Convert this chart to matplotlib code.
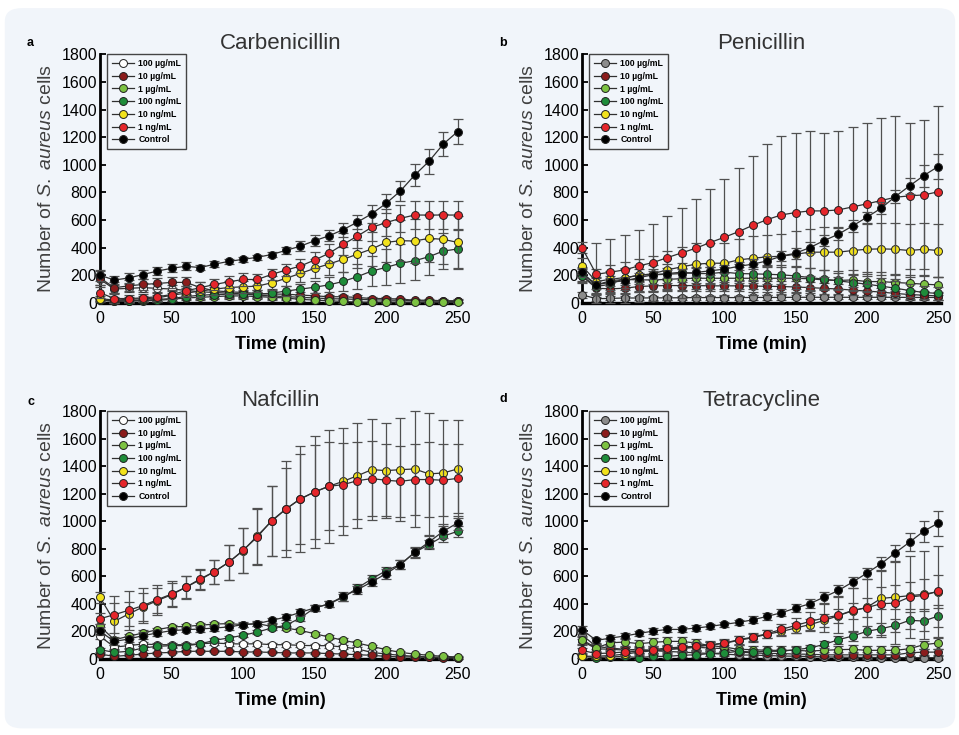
import matplotlib
matplotlib.use("Agg")
import matplotlib.pyplot as plt
import numpy as np
from matplotlib.patches import FancyBboxPatch

plt.rcParams["font.family"] = ["Liberation Sans", "DejaVu Sans"]
plt.rcParams["mathtext.fontset"] = "custom"
plt.rcParams["mathtext.rm"] = "Liberation Sans"
plt.rcParams["mathtext.it"] = "Liberation Sans:italic"

TIME = [0, 10, 20, 30, 40, 50, 60, 70, 80, 90, 100, 110, 120, 130, 140, 150,
        160, 170, 180, 190, 200, 210, 220, 230, 240, 250]
LABELS = ["100 \u00b5g/mL", "10 \u00b5g/mL", "1 \u00b5g/mL", "100 ng/mL",
          "10 ng/mL", "1 ng/mL", "Control"]

# ---- a: Carbenicillin
CARB_100UG = [170, 100, 105, 110, 105, 100, 90, 80, 75, 70, 65, 55, 50, 45, 40, 35, 30, 28, 25, 22, 20, 18, 15, 12, 12, 10]
CARB_10UG = [181, 109, 123, 133, 140, 148, 148, 111, 87, 80, 75, 68, 63, 63, 56, 51, 44, 44, 39, 31, 31, 27, 19, 19, 15, 15]
CARB_1UG = [20, 10, 12, 15, 18, 25, 35, 40, 45, 50, 50, 45, 40, 35, 25, 20, 15, 10, 5, 5, 5, 5, 4, 4, 3, 3]
CARB_100NG = [19, 15, 15, 19, 24, 31, 45, 55, 60, 62, 65, 62, 70, 85, 99, 113, 130, 155, 190, 230, 257, 286, 305, 334, 375, 390]
CARB_10NG = [30, 20, 25, 30, 35, 55, 70, 85, 99, 111, 116, 121, 145, 177, 213, 249, 281, 315, 353, 390, 438, 450, 448, 467, 460, 438]
CARB_1NG = [73, 31, 31, 36, 44, 60, 87, 109, 133, 152, 169, 169, 206, 237, 266, 310, 358, 423, 484, 547, 581, 612, 636, 636, 636, 636]
CARB_CTRL = [200, 165, 180, 205, 230, 250, 265, 255, 280, 300, 315, 330, 350, 380, 410, 450, 485, 530, 585, 645, 720, 810, 925, 1025, 1150, 1240]

CARB_100UG_ERR = [40, 30, 30, 30, 30, 30, 30, 25, 25, 25, 20, 20, 20, 15, 15, 15, 10, 10, 10, 10, 10, 10, 8, 8, 8, 8]
CARB_10UG_ERR = [50, 40, 40, 40, 40, 40, 40, 40, 30, 30, 30, 25, 25, 20, 20, 20, 15, 15, 15, 10, 10, 10, 10, 10, 10, 10]
CARB_1UG_ERR = [10, 10, 10, 10, 10, 15, 15, 20, 20, 20, 20, 20, 20, 15, 15, 10, 10, 8, 5, 5, 5, 5, 5, 5, 5, 5]
CARB_100NG_ERR = [10, 10, 10, 10, 10, 15, 20, 25, 25, 30, 30, 30, 30, 35, 40, 45, 55, 70, 90, 110, 130, 140, 140, 130, 130, 140]
CARB_10NG_ERR = [20, 20, 20, 20, 25, 30, 30, 40, 40, 45, 45, 45, 50, 55, 60, 70, 80, 90, 100, 120, 140, 150, 160, 170, 180, 190]
CARB_1NG_ERR = [40, 30, 25, 25, 30, 30, 35, 40, 40, 45, 45, 40, 40, 45, 50, 60, 70, 80, 90, 100, 100, 100, 100, 100, 100, 100]
CARB_CTRL_ERR = [40, 30, 35, 35, 30, 30, 30, 20, 20, 20, 20, 20, 20, 25, 35, 40, 40, 50, 50, 65, 70, 70, 80, 90, 85, 90]

# ---- b: Penicillin
PEN_100UG = [58, 30, 32, 35, 35, 36, 36, 37, 38, 38, 38, 38, 39, 39, 39, 40, 40, 40, 40, 40, 40, 40, 40, 39, 39, 39]
PEN_10UG = [193, 106, 101, 106, 118, 123, 125, 125, 125, 123, 123, 123, 121, 120, 118, 115, 110, 105, 100, 92, 85, 78, 68, 60, 55, 50]
PEN_1UG = [210, 130, 160, 170, 166, 166, 170, 175, 178, 178, 178, 178, 178, 178, 178, 178, 174, 166, 162, 166, 154, 154, 147, 142, 135, 130]
PEN_100NG = [195, 118, 135, 178, 203, 203, 212, 222, 212, 212, 222, 212, 210, 207, 203, 195, 183, 171, 159, 147, 135, 121, 106, 89, 75, 68]
PEN_10NG = [268, 154, 171, 183, 198, 212, 239, 261, 280, 287, 287, 311, 323, 333, 338, 352, 367, 367, 367, 379, 388, 391, 388, 379, 388, 379]
PEN_1NG = [400, 207, 222, 239, 268, 292, 328, 362, 396, 437, 475, 516, 562, 603, 637, 654, 666, 666, 673, 695, 717, 741, 765, 775, 782, 804]
PEN_CTRL = [220, 130, 150, 159, 183, 203, 207, 212, 220, 232, 244, 265, 280, 304, 338, 360, 400, 451, 497, 557, 620, 685, 770, 847, 922, 987]

PEN_100UG_ERR = [20, 15, 15, 15, 15, 15, 15, 15, 15, 15, 15, 15, 15, 15, 15, 15, 15, 15, 15, 15, 15, 15, 15, 15, 15, 15]
PEN_10UG_ERR = [40, 40, 40, 40, 40, 40, 40, 40, 40, 40, 40, 40, 40, 40, 40, 40, 40, 40, 35, 35, 35, 30, 30, 30, 30, 30]
PEN_1UG_ERR = [50, 60, 70, 80, 80, 80, 80, 80, 80, 80, 80, 80, 80, 80, 80, 80, 80, 70, 70, 70, 70, 70, 60, 60, 60, 60]
PEN_100NG_ERR = [50, 60, 60, 70, 70, 70, 70, 70, 70, 70, 70, 70, 70, 70, 70, 70, 70, 70, 60, 60, 60, 60, 50, 50, 50, 50]
PEN_10NG_ERR = [60, 90, 100, 110, 120, 130, 140, 140, 150, 150, 150, 150, 160, 160, 160, 170, 170, 180, 180, 180, 180, 190, 190, 190, 190, 190]
PEN_1NG_ERR = [40, 230, 239, 249, 263, 282, 304, 328, 357, 386, 420, 464, 502, 546, 572, 580, 580, 567, 570, 580, 583, 596, 590, 530, 540, 620]
PEN_CTRL_ERR = [30, 30, 30, 30, 30, 30, 30, 30, 30, 30, 30, 30, 35, 35, 35, 40, 40, 40, 45, 45, 40, 45, 50, 60, 80, 92]

# ---- c: Nafcillin
NAF_100UG = [165, 87, 97, 109, 104, 104, 104, 111, 116, 111, 109, 111, 104, 104, 99, 97, 97, 87, 73, 48, 36, 27, 19, 15, 12, 10]
NAF_10UG = [36, 19, 27, 36, 44, 48, 56, 56, 56, 56, 51, 51, 48, 44, 44, 44, 39, 36, 31, 27, 19, 15, 15, 12, 7, 7]
NAF_1UG = [237, 140, 165, 189, 213, 233, 237, 245, 254, 257, 250, 257, 237, 225, 208, 184, 160, 136, 116, 92, 68, 48, 36, 27, 19, 15]
NAF_100NG = [68, 48, 56, 80, 92, 97, 97, 109, 136, 153, 172, 196, 225, 245, 298, 371, 400, 448, 516, 582, 642, 686, 775, 831, 892, 928]
NAF_10NG = [448, 274, 327, 378, 424, 467, 521, 576, 635, 703, 787, 896, 1001, 1090, 1163, 1214, 1255, 1291, 1332, 1376, 1369, 1376, 1381, 1345, 1352, 1381]
NAF_1NG = [293, 322, 354, 388, 431, 472, 521, 582, 635, 703, 790, 887, 1006, 1090, 1163, 1214, 1255, 1267, 1296, 1311, 1299, 1291, 1304, 1304, 1299, 1313]
NAF_CTRL = [201, 128, 145, 170, 189, 206, 213, 218, 225, 233, 250, 257, 281, 305, 339, 371, 400, 455, 504, 560, 620, 686, 775, 850, 928, 989]

NAF_100UG_ERR = [20, 15, 15, 15, 15, 15, 15, 15, 15, 15, 15, 15, 15, 15, 15, 15, 15, 15, 15, 10, 10, 10, 8, 8, 8, 8]
NAF_10UG_ERR = [10, 8, 8, 8, 8, 8, 8, 8, 8, 8, 8, 8, 8, 8, 8, 8, 8, 8, 8, 6, 6, 6, 6, 6, 6, 6]
NAF_1UG_ERR = [20, 20, 20, 20, 15, 15, 15, 15, 15, 15, 15, 15, 15, 15, 15, 15, 15, 15, 15, 10, 10, 10, 10, 8, 8, 8]
NAF_100NG_ERR = [15, 15, 15, 15, 15, 15, 15, 15, 15, 15, 15, 15, 15, 15, 20, 20, 20, 25, 30, 30, 30, 30, 35, 35, 40, 40]
NAF_10NG_ERR = [40, 133, 85, 100, 90, 85, 80, 72, 87, 128, 162, 203, 254, 347, 388, 409, 412, 388, 383, 369, 346, 376, 419, 443, 383, 359]
NAF_1NG_ERR = [40, 133, 143, 128, 110, 93, 85, 72, 87, 128, 162, 203, 254, 300, 330, 340, 320, 300, 280, 270, 260, 260, 260, 270, 260, 250]
NAF_CTRL_ERR = [30, 25, 25, 25, 20, 20, 20, 20, 20, 20, 20, 20, 20, 25, 25, 25, 25, 30, 30, 30, 35, 35, 40, 45, 50, 50]

# ---- d: Tetracycline
TET_100UG = [175, 90, 80, 70, 65, 60, 55, 50, 45, 40, 35, 30, 28, 25, 22, 20, 18, 15, 14, 12, 12, 10, 10, 10, 10, 10]
TET_10UG = [130, 75, 70, 65, 70, 60, 70, 75, 85, 80, 75, 50, 45, 40, 40, 35, 35, 30, 30, 30, 30, 30, 30, 45, 50, 50]
TET_1UG = [140, 80, 118, 123, 111, 121, 128, 128, 116, 97, 87, 70, 68, 63, 63, 63, 58, 63, 68, 70, 63, 63, 63, 75, 104, 116]
TET_100NG = [19, 10, 15, 19, 10, 19, 19, 27, 31, 39, 44, 56, 51, 56, 56, 68, 80, 106, 140, 167, 201, 220, 244, 281, 276, 312]
TET_10NG = [20, 20, 25, 35, 50, 60, 70, 80, 90, 100, 115, 135, 155, 180, 200, 225, 250, 280, 315, 350, 375, 440, 450, 460, 470, 490]
TET_1NG = [63, 39, 44, 51, 56, 68, 80, 87, 92, 104, 116, 140, 160, 184, 215, 244, 273, 298, 317, 353, 373, 402, 406, 450, 462, 493]
TET_CTRL = [213, 135, 152, 167, 186, 203, 215, 215, 225, 237, 252, 266, 285, 310, 336, 370, 402, 450, 498, 559, 624, 692, 772, 849, 929, 987]

TET_100UG_ERR = [30, 20, 20, 20, 20, 20, 20, 20, 15, 15, 15, 15, 15, 15, 15, 10, 10, 10, 10, 10, 10, 10, 10, 10, 10, 10]
TET_10UG_ERR = [30, 25, 25, 25, 25, 25, 25, 25, 25, 25, 25, 20, 20, 20, 20, 20, 20, 20, 20, 20, 20, 20, 20, 20, 20, 20]
TET_1UG_ERR = [30, 30, 30, 30, 30, 30, 30, 30, 30, 30, 30, 30, 30, 30, 30, 30, 30, 30, 30, 30, 30, 30, 30, 30, 30, 40]
TET_100NG_ERR = [10, 10, 10, 10, 10, 10, 10, 15, 15, 15, 15, 15, 15, 20, 20, 20, 25, 25, 30, 35, 40, 45, 50, 60, 70, 80]
TET_10NG_ERR = [15, 15, 15, 15, 20, 20, 20, 25, 25, 25, 25, 30, 30, 30, 30, 35, 40, 45, 50, 60, 70, 80, 90, 100, 110, 117]
TET_1NG_ERR = [20, 20, 20, 20, 20, 25, 25, 30, 30, 30, 30, 30, 30, 30, 40, 55, 70, 105, 130, 160, 210, 240, 300, 300, 320, 330]
TET_CTRL_ERR = [30, 20, 20, 20, 20, 20, 20, 20, 20, 20, 20, 20, 25, 25, 25, 30, 35, 40, 40, 40, 40, 48, 60, 65, 77, 92]

BG = "#f1f5fa"
COLORS = ["#ffffff", "#8b1c1c", "#7cc242", "#1e8c3a", "#f2e21c", "#e5262b", "#000000"]
GREY_100 = "#8c8c8c"


def draw_panel(ax, series, errs, first_color, title):
    colors = [first_color] + COLORS[1:]
    for i, (lab, y, e, c) in enumerate(zip(LABELS, series, errs, colors)):
        y = np.array(y, dtype=float)
        e = np.array(e, dtype=float)
        lower = np.minimum(e, y)
        ax.errorbar(TIME, y, yerr=[lower, e], fmt="none", ecolor="#505050",
                    elinewidth=0.9, capsize=3.3, capthick=0.9, clip_on=False,
                    zorder=3 + 2 * i)
        ax.plot(TIME, y, "-o", color="#303030", lw=0.9, mfc=c, mec="#202020",
                mew=0.7, ms=5.7, label=lab, clip_on=False, zorder=4 + 2 * i)
    ax.set_xlim(0, 252)
    ax.set_ylim(0, 1800)
    ax.set_xticks([0, 50, 100, 150, 200, 250])
    ax.set_yticks(range(0, 1801, 200))
    ax.set_facecolor("none")
    ax.spines["top"].set_visible(False)
    ax.spines["right"].set_visible(False)
    ax.spines["left"].set_linewidth(2.0)
    ax.spines["bottom"].set_linewidth(2.4)
    ax.tick_params(direction="in", length=4, width=1.3, labelsize=11.5)
    ax.tick_params(axis="y", pad=2)
    ax.tick_params(axis="x", pad=6)
    ax.set_title(title, fontsize=16, color="#333333", pad=4)
    ax.set_xlabel("Time (min)", fontsize=13, fontweight="bold", labelpad=7)
    ax.set_ylabel(r"Number of $\mathit{S.}$ $\mathit{aureus}$ cells", fontsize=14,
                  color="#404040", labelpad=5)
    leg = ax.legend(loc="upper left", bbox_to_anchor=(0.02, 1.0), borderaxespad=0,
                    prop={"size": 6.3, "weight": "bold"}, handlelength=2.5,
                    handletextpad=0.5, labelspacing=0.42, borderpad=0.55,
                    fancybox=False, framealpha=1)
    leg.get_frame().set_facecolor(BG)
    leg.get_frame().set_edgecolor("#444444")
    leg.get_frame().set_linewidth(1.0)
    leg.set_zorder(30)


fig = plt.figure(figsize=(9.59, 7.35), dpi=100)
fig.patch.set_facecolor("white")
fig.patches.append(FancyBboxPatch((0.005, 0.009), 0.991, 0.98,
                                  boxstyle="round,pad=0,rounding_size=0.018",
                                  transform=fig.transFigure, fc=BG, ec="none",
                                  zorder=-5))

ax_a = fig.add_axes([0.1043, 0.588, 0.3758, 0.338])
ax_b = fig.add_axes([0.6069, 0.588, 0.3742, 0.338])
ax_c = fig.add_axes([0.1043, 0.1034, 0.3758, 0.337])
ax_d = fig.add_axes([0.6069, 0.1034, 0.3742, 0.337])

draw_panel(ax_a, [CARB_100UG, CARB_10UG, CARB_1UG, CARB_100NG, CARB_10NG, CARB_1NG, CARB_CTRL],
           [CARB_100UG_ERR, CARB_10UG_ERR, CARB_1UG_ERR, CARB_100NG_ERR, CARB_10NG_ERR, CARB_1NG_ERR, CARB_CTRL_ERR],
           "#ffffff", "Carbenicillin")
draw_panel(ax_b, [PEN_100UG, PEN_10UG, PEN_1UG, PEN_100NG, PEN_10NG, PEN_1NG, PEN_CTRL],
           [PEN_100UG_ERR, PEN_10UG_ERR, PEN_1UG_ERR, PEN_100NG_ERR, PEN_10NG_ERR, PEN_1NG_ERR, PEN_CTRL_ERR],
           GREY_100, "Penicillin")
draw_panel(ax_c, [NAF_100UG, NAF_10UG, NAF_1UG, NAF_100NG, NAF_10NG, NAF_1NG, NAF_CTRL],
           [NAF_100UG_ERR, NAF_10UG_ERR, NAF_1UG_ERR, NAF_100NG_ERR, NAF_10NG_ERR, NAF_1NG_ERR, NAF_CTRL_ERR],
           "#ffffff", "Nafcillin")
draw_panel(ax_d, [TET_100UG, TET_10UG, TET_1UG, TET_100NG, TET_10NG, TET_1NG, TET_CTRL],
           [TET_100UG_ERR, TET_10UG_ERR, TET_1UG_ERR, TET_100NG_ERR, TET_10NG_ERR, TET_1NG_ERR, TET_CTRL_ERR],
           GREY_100, "Tetracycline")

for letter, (px, py) in zip("abcd", [(30, 43), (503, 43), (31, 402), (503, 399)]):
    fig.text(px / 959, 1 - py / 735, letter, fontsize=9, fontweight="bold",
             ha="center", va="center")

fig.savefig("out.png", dpi=100)
